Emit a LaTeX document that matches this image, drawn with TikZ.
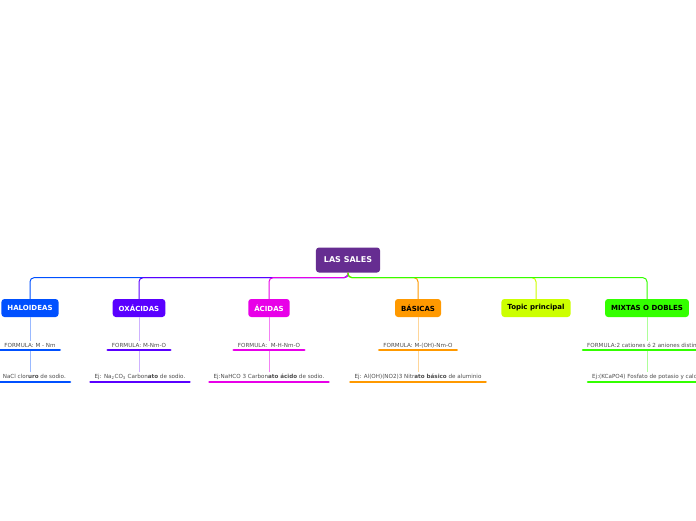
\documentclass[tikz,border=0pt]{standalone}
\usepackage{fontspec}
\setmainfont{DejaVu Sans}
\usetikzlibrary{positioning}

\definecolor{raiz}{HTML}{662D91}
\definecolor{haloideas}{HTML}{0050FF}
\definecolor{oxacidas}{HTML}{5A00FF}
\definecolor{acidas}{HTML}{E800E8}
\definecolor{basicas}{HTML}{FF9900}
\definecolor{topico}{HTML}{CCFF00}
\definecolor{mixtas}{HTML}{33FF00}

\tikzset{
    tema/.style={rounded corners=3pt, minimum height=18pt, inner xsep=6pt,
        font=\fontsize{7}{8}\selectfont\bfseries},
    dato/.style={font=\fontsize{5.6}{6.5}\selectfont, text=black!70,
        inner xsep=4pt, inner ysep=2pt, anchor=south},
    rama/.style={line width=1pt, rounded corners=4pt},
    hilo/.style={line width=0.6pt},
    raya/.style={line width=2.6pt, line cap=round},
}

\begin{document}
\begin{tikzpicture}[x=1pt, y=-1pt]
        \useasboundingbox (0,0) rectangle (696,520);

        \node (root) [tema, fill=raiz, text=white, minimum height=25pt, inner xsep=8pt,
            font=\fontsize{8}{9}\selectfont\bfseries] at (348,260) {LAS SALES};

        \node (hal) [tema, fill=haloideas, text=white] at (30,308) {HALOIDEAS};
        \node (oxa) [tema, fill=oxacidas, text=white] at (139,308) {OXÁCIDAS};
        \node (aci) [tema, fill=acidas, text=white] at (269,308) {ÁCIDAS};
        \node (bas) [tema, fill=basicas] at (418,308) {BÁSICAS};
        \node (top) [tema, fill=topico] at (536,308) {Topic principal};
        \node (mix) [tema, fill=mixtas] at (647,308) {MIXTAS O DOBLES};

        % ramas
        \draw[rama, haloideas] (root.south) -- ++(0,5) -| (hal.north);
        \draw[rama, oxacidas] (root.south) -- ++(0,5) -| (oxa.north);
        \draw[rama, acidas] (root.south) -- ++(0,5) -| (aci.north);
        \draw[rama, basicas] (root.south) -- ++(0,5) -| (bas.north);
        \draw[rama, topico] (root.south) -- ++(0,5) -| (top.north);
        \draw[rama, mixtas] (root.south) -- ++(0,5) -| (mix.north);

        % formulas
        \node (halF) [dato] at (30,350) {FORMULA: M - Nm};
        \node (oxaF) [dato] at (139,350) {FORMULA: M-Nm-O};
        \node (aciF) [dato] at (269,350) {FORMULA:\ \ M-H-Nm-O};
        \node (basF) [dato] at (418,350) {FORMULA: M-(OH)-Nm-O};
        \node (mixF) [dato, anchor=south west] at (583,350) {FORMULA:2 cationes ó 2 aniones distintos};

        % ejemplos
        \node (halE) [dato, anchor=south east] at (70,382) {Ej. NaCl clor\textbf{uro} de sodio.};
        \node (oxaE) [dato] at (140,382) {Ej: Na\textsubscript{2}CO\textsubscript{3} Carbon\textbf{ato} de sodio.};
        \node (aciE) [dato] at (269,382) {Ej:NaHCO 3 Carbon\textbf{ato ácido} de sodio.};
        \node (basE) [dato] at (418,382) {Ej: Al(OH)(NO2)3 Nitr\textbf{ato básico} de aluminio};
        \node (mixE) [dato, anchor=south west] at (588,382) {Ej:(KCaPO4) Fosfato de potasio y calcio};

        \draw[hilo, haloideas!40] (hal.south) -- (halF.north);
        \draw[hilo, haloideas!40] (halF.south) -- (halF.south |- halE.north);
        \draw[hilo, oxacidas!30] (oxa.south) -- (oxaF.north);
        \draw[hilo, oxacidas!30] (oxaF.south) -- (oxaF.south |- oxaE.north);
        \draw[hilo, acidas!50] (aci.south) -- (aciF.north);
        \draw[hilo, acidas!50] (aciF.south) -- (aciE.north);
        \draw[hilo, basicas!40] (bas.south) -- (basF.north);
        \draw[hilo, basicas!40] (basF.south) -- (basE.north);
        \draw[hilo, mixtas!40] (mix.south) -- (mix.south |- mixF.north);
        \draw[hilo, mixtas!40] (mix.south |- mixF.south) -- (mix.south |- mixE.north);

        \draw[raya, haloideas] (halF.south west) -- (halF.south east);
        \draw[raya, haloideas] (halE.south west) -- (halE.south east);
        \draw[raya, oxacidas] (oxaF.south west) -- (oxaF.south east);
        \draw[raya, oxacidas] (oxaE.south west) -- (oxaE.south east);
        \draw[raya, acidas] (aciF.south west) -- (aciF.south east);
        \draw[raya, acidas] (aciE.south west) -- (aciE.south east);
        \draw[raya, basicas] (basF.south west) -- (basF.south east);
        \draw[raya, basicas] (basE.south west) -- (basE.south east);
        \draw[raya, mixtas] (mixF.south west) -- (mixF.south east);
        \draw[raya, mixtas] (mixE.south west) -- (mixE.south east);
\end{tikzpicture}
\end{document}
